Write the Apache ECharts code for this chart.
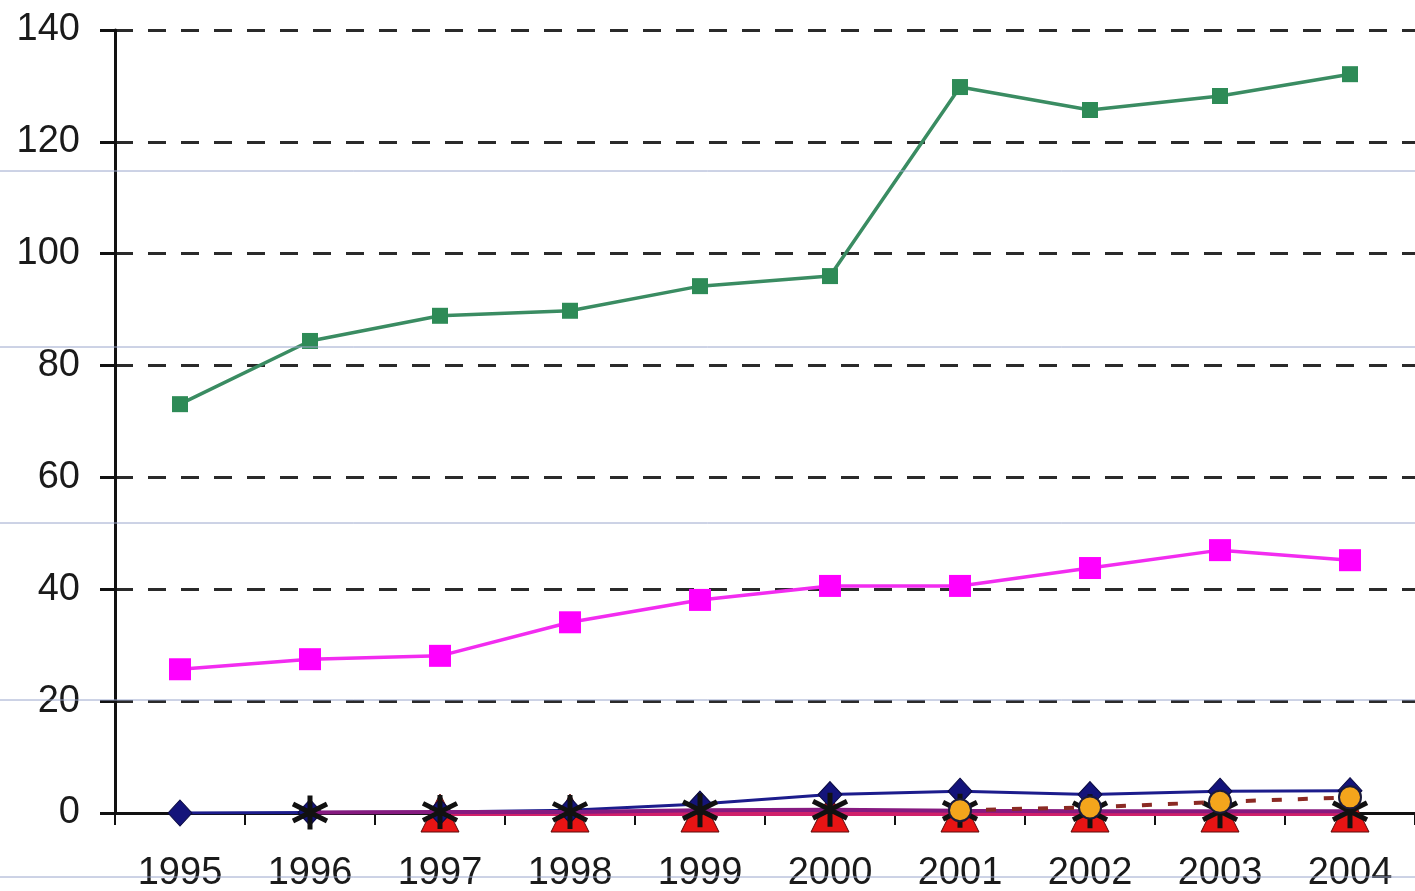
<!DOCTYPE html>
<html>
<head>
<meta charset="utf-8">
<script src="https://cdn.jsdelivr.net/npm/echarts@6/dist/echarts.min.js"></script>
<style>
  html, body { margin: 0; padding: 0; background: #fff; }
  #chart { width: 1415px; height: 891px; }
</style>
</head>
<body>
<div id="chart"></div>
<script>
const years = ['1995', '1996', '1997', '1998', '1999', '2000', '2001', '2002', '2003', '2004'];

// values
const greenSeries   = [73.1, 84.4, 88.9, 89.8, 94.2, 96.0, 129.8, 125.7, 128.2, 132.1];
const magentaSeries = [25.7, 27.5, 28.1, 34.1, 38.1, 40.6, 40.6, 43.8, 47.0, 45.2];
const navySeries    = [0, 0.1, 0.2, 0.5, 1.6, 3.3, 3.9, 3.3, 3.9, 4.0];
const starSeries    = [null, 0.1, 0.2, 0.2, 0.5, 0.6, 0.4, 0.3, 0.3, 0.3];
const triangleSeries = [null, null, 0, 0, 0, 0, 0, 0, 0, 0];
const circleSeries  = [null, null, null, null, null, null, 0.5, 1.0, 2.0, 2.8];

const yTicks = { min: 0, max: 140, interval: 20 };

const chart = echarts.init(document.getElementById('chart'), null, { renderer: 'canvas' });

const asterisk = 'path://M5,0L5,10M0.8,2.5L9.2,7.5M0.8,7.5L9.2,2.5';
const font = "'Liberation Sans', Arial, sans-serif";

// thin grey scan lines across the page
const scanLines = [171, 347, 523, 700, 877].map(y => ({
    type: 'line',
    shape: { x1: 0, y1: y, x2: 1415, y2: y },
    style: { stroke: '#9aa6cc', lineWidth: 1 },
    z: 100
}));

chart.setOption({
    backgroundColor: '#fff',
    animation: false,
    grid: { left: 115, right: 0, top: 30, bottom: 78, containLabel: false, outerBoundsMode: 'none' },
    xAxis: {
        type: 'category',
        data: years,
        boundaryGap: true,
        axisLine: { lineStyle: { color: '#111', width: 3 } },
        axisTick: { show: true, inside: false, length: 12, lineStyle: { color: '#111', width: 2 } },
        axisLabel: { color: '#1a1a1a', fontSize: 38, fontFamily: font, margin: 42 },
        splitLine: { show: false }
    },
    yAxis: {
        type: 'value',
        min: yTicks.min,
        max: yTicks.max,
        interval: yTicks.interval,
        axisLine: { show: true, lineStyle: { color: '#111', width: 3 } },
        axisTick: { show: true, length: 15, lineStyle: { color: '#111', width: 3 } },
        axisLabel: { color: '#1a1a1a', fontSize: 38, fontFamily: font, margin: 35 },
        splitLine: { lineStyle: { color: '#2a2a2a', width: 3, type: [18, 15] } }
    },
    graphic: scanLines,
    series: [
        {
            name: 'navy',
            type: 'line',
            data: navySeries,
            symbol: 'diamond',
            symbolSize: [24, 26],
            lineStyle: { color: '#1c1c8c', width: 3 },
            itemStyle: { color: '#14147a', borderColor: '#0a0a40', borderWidth: 1 },
            z: 3
        },
        {
            name: 'green',
            type: 'line',
            data: greenSeries,
            symbol: 'rect',
            symbolSize: 16,
            lineStyle: { color: '#3a8c62', width: 3.5 },
            itemStyle: { color: '#2e8b57' },
            z: 3
        },
        {
            name: 'magenta',
            type: 'line',
            data: magentaSeries,
            symbol: 'rect',
            symbolSize: 22,
            lineStyle: { color: '#f22cf0', width: 3.5 },
            itemStyle: { color: '#ff00ff' },
            z: 3
        },
        {
            name: 'triangle',
            type: 'line',
            data: triangleSeries,
            symbol: 'triangle',
            symbolSize: [38, 38],
            lineStyle: { color: '#d0206a', width: 6 },
            itemStyle: { color: '#e81414', borderColor: '#5a0a0a', borderWidth: 1 },
            z: 2
        },
        {
            name: 'star',
            type: 'line',
            data: starSeries,
            symbol: asterisk,
            symbolSize: 34,
            lineStyle: { color: '#861a80', width: 4 },
            itemStyle: { color: 'rgba(0,0,0,0)', borderColor: '#111', borderWidth: 5 },
            z: 4
        },
        {
            name: 'circle',
            type: 'line',
            data: circleSeries,
            symbol: 'circle',
            symbolSize: 22,
            lineStyle: { color: '#8b2a24', width: 4, type: [10, 16] },
            itemStyle: { color: '#f4a51c', borderColor: '#1a1a3a', borderWidth: 2 },
            z: 5
        }
    ]
});

window.addEventListener('resize', () => chart.resize());
</script>
</body>
</html>
